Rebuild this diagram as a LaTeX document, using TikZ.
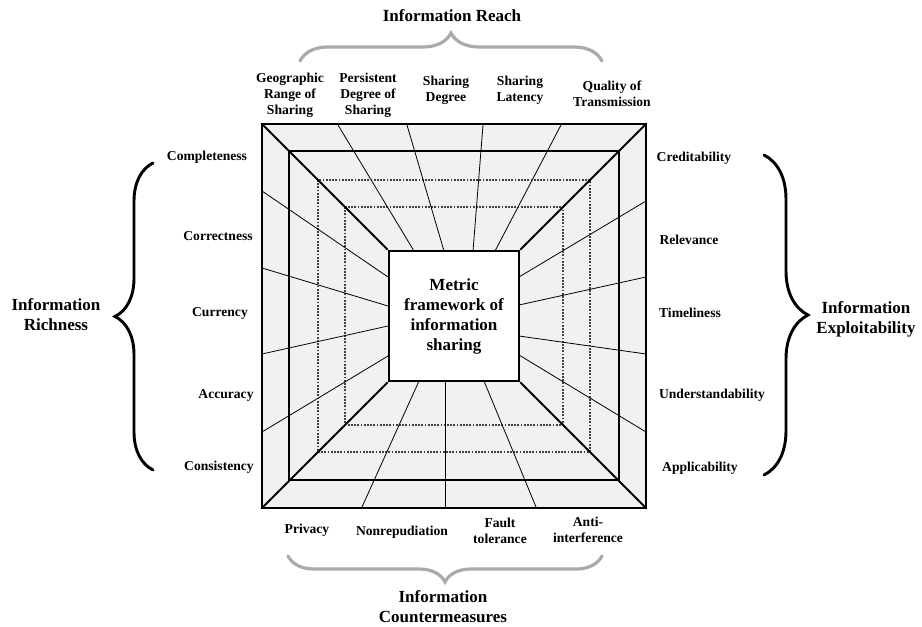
\documentclass[tikz,border=0pt]{standalone}
\usepackage{fontspec}
\setmainfont{Liberation Serif}
\usepackage{tikz}
\usetikzlibrary{decorations.pathreplacing}
\definecolor{panelgray}{RGB}{241,241,241}
\definecolor{bracegray}{RGB}{170,170,170}

\begin{document}
\begin{tikzpicture}[x=0.75pt,y=-0.75pt,
    lbl/.style={font=\bfseries\fontsize{10.2}{12}\selectfont,align=center,inner sep=0pt},
    head/.style={font=\bfseries\fontsize{12.75}{15}\selectfont,align=center,inner sep=0pt},
    ray/.style={line width=0.6pt},
    dots/.style={line width=0.8pt,black!75,dash pattern=on 1.4pt off 1pt},
    bigbrace/.style={decorate,line width=2.2pt,line cap=round},
    softbrace/.style={decorate,line width=2.4pt,bracegray,line cap=round}]
    \useasboundingbox (0,0) rectangle (922,627);

    \node[draw,line width=1.5pt,fill=panelgray,minimum size=287.5pt,inner sep=0pt] (frame) at (454,316) {};
    \draw[line width=1pt] (289,151) rectangle (619,480);
    \draw[dots] (318,180) rectangle (590,452);
    \draw[dots] (345,207) rectangle (563,425);

    \foreach \a/\b in {338/414,407/444,483/473,561/495}
        \draw[ray] (\a,125) -- (\b,251);
    \foreach \a/\b in {362/419,445/445,536/484}
        \draw[ray] (\a,507) -- (\b,381);
    \foreach \a/\b in {191/277,268/306,354/326,432/356}
        \draw[ray] (262,\a) -- (388,\b);
    \foreach \a/\b in {201/277,277/305,354/336,432/355}
        \draw[ray] (646,\a) -- (519,\b);

    \node[draw,line width=1.5pt,fill=white,minimum size=98pt,inner sep=0pt,
          font=\bfseries\fontsize{12.75}{15}\selectfont,align=center] (core) at (454,316)
          {Metric\\framework of\\information\\sharing};

    \draw[line width=1.5pt] (frame.north west) -- (core.north west);
    \draw[line width=1.5pt] (frame.north east) -- (core.north east);
    \draw[line width=1.5pt] (frame.south west) -- (core.south west);
    \draw[line width=1.5pt] (frame.south east) -- (core.south east);

    \node[lbl] (geo) at (290,95) {Geographic\\Range of\\Sharing};
    \node[lbl] (persist) at (368,95) {Persistent\\Degree of\\Sharing};
    \node[lbl] (sdeg) at (446,90) {Sharing\\Degree};
    \node[lbl] (slat) at (520,90) {Sharing\\Latency};
    \node[lbl] (qual) at (612,94) {Quality of\\Transmission};

    \node[lbl] (complete) at (207,157) {Completeness};
    \node[lbl] (correct) at (218,236) {Correctness};
    \node[lbl] (currency) at (220,313) {Currency};
    \node[lbl] (accuracy) at (226,395) {Accuracy};
    \node[lbl] (consist) at (219,467) {Consistency};

    \node[lbl] (credit) at (694,158) {Creditability};
    \node[lbl] (relev) at (689,240) {Relevance};
    \node[lbl] (timely) at (690,313) {Timeliness};
    \node[lbl] (underst) at (712,395) {Understandability};
    \node[lbl] (applic) at (700,468) {Applicability};

    \node[lbl] (privacy) at (307,530) {Privacy};
    \node[lbl] (nonrep) at (402,532) {Nonrepudiation};
    \node[lbl] (fault) at (500,531) {Fault\\tolerance};
    \node[lbl] (antiint) at (588,530) {Anti-\\interference};

    \node[head] (reach) at (452,16) {Information Reach};
    \node[head] (rich) at (56,315) {Information\\Richness};
    \node[head] (exploit) at (866,319) {Information\\Exploitability};
    \node[head] (counter) at (443,607) {Information\\Countermeasures};

    \coordinate (lbtop) at (153,163);
    \coordinate (lbbot) at (153,470);
    \coordinate (rbtop) at (764,155);
    \coordinate (rbbot) at (764,475);
    \coordinate (tbl) at (300,61);
    \coordinate (tbr) at (602,61);
    \coordinate (bbl) at (288,556);
    \coordinate (bbr) at (602,556);

    \draw[bigbrace,decoration={brace,amplitude=28.5pt}] (lbbot) -- (lbtop);
    \draw[bigbrace,decoration={brace,amplitude=33pt}] (rbtop) -- (rbbot);
    \draw[softbrace,decoration={brace,amplitude=21pt}] (tbl) -- (tbr);
    \draw[softbrace,decoration={brace,amplitude=19.5pt}] (bbr) -- (bbl);
\end{tikzpicture}
\end{document}
